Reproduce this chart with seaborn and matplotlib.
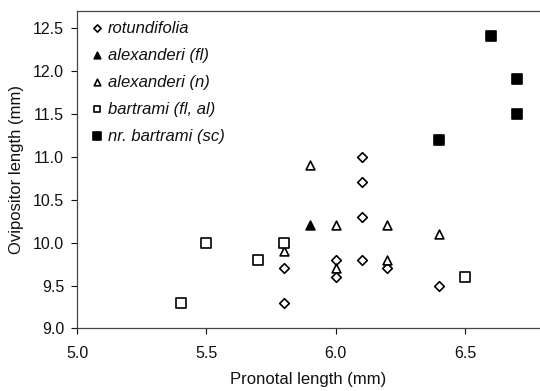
import numpy as np
import pandas as pd
import seaborn as sns
import matplotlib
matplotlib.use("Agg")
import matplotlib.pyplot as plt

# values
rot_x = [5.8, 5.8, 6.0, 6.0, 6.1, 6.1, 6.1, 6.1, 6.2, 6.4]
rot_y = [9.7, 9.3, 9.8, 9.6, 11.0, 10.7, 10.3, 9.8, 9.7, 9.5]
alfl_x = [5.9]
alfl_y = [10.2]
aln_x = [5.8, 5.9, 6.0, 6.0, 6.2, 6.2, 6.4]
aln_y = [9.9, 10.9, 10.2, 9.7, 10.2, 9.8, 10.1]
bart_x = [5.4, 5.5, 5.7, 5.8, 6.5]
bart_y = [9.3, 10.0, 9.8, 10.0, 9.6]
nrb_x = [6.4, 6.6, 6.7, 6.7]
nrb_y = [11.2, 12.4, 11.9, 11.5]

x_ticks = [5.0, 5.5, 6.0, 6.5]
y_ticks = [9.0, 9.5, 10.0, 10.5, 11.0, 11.5, 12.0, 12.5]

sns.set_style("ticks")
plt.rcParams["font.family"] = ["Liberation Sans", "DejaVu Sans"]

groups = [
    ("rotundifolia", rot_x, rot_y, "D", "white", 24),
    ("alexanderi (fl)", alfl_x, alfl_y, "^", "black", 40),
    ("alexanderi (n)", aln_x, aln_y, "^", "white", 40),
    ("bartrami (fl, al)", bart_x, bart_y, "s", "white", 42),
    ("nr. bartrami (sc)", nrb_x, nrb_y, "s", "black", 48),
]

fig = plt.figure(figsize=(5.4, 3.91), dpi=100)
ax = fig.add_axes([0.143, 0.16, 0.857, 0.8126])

for name, xs, ys, mk, fc, sz in groups:
    df = pd.DataFrame({"x": xs, "y": ys})
    sns.scatterplot(data=df, x="x", y="y", ax=ax, marker=mk, s=sz,
                    facecolor=fc, edgecolor="black", linewidth=1.2,
                    label=name, zorder=3)

ax.set_xlim(5.0, 6.79)
ax.set_ylim(9.0, 12.7)
ax.set_xticks(x_ticks)
ax.set_yticks(y_ticks)
ax.set_xticklabels([f"{v:.1f}" for v in x_ticks])
ax.set_yticklabels([f"{v:.1f}" for v in y_ticks])
ax.tick_params(direction="out", length=4, width=0.8, labelsize=11.5, colors="#111111")
ax.tick_params(axis="x", pad=8.5)
ax.tick_params(axis="y", pad=5.5)
for side in ["left", "bottom", "top"]:
    ax.spines[side].set_color("#444444")
    ax.spines[side].set_linewidth(0.9)
ax.spines["right"].set_visible(False)

ax.set_xlabel("Pronotal length (mm)", fontsize=12, color="#111111", labelpad=8)
ax.set_ylabel("Ovipositor length (mm)", fontsize=12, color="#111111")
ax.yaxis.set_label_coords(-0.115, 0.5)

leg = ax.legend(loc="upper left", bbox_to_anchor=(0.007, 1.0), frameon=False,
                prop={"style": "italic", "size": 12},
                handletextpad=0.25, labelspacing=0.72, borderaxespad=0.2,
                handlelength=0.8, markerscale=0.75)
for t in leg.get_texts():
    t.set_color("#111111")

fig.savefig("out.png", dpi=100, facecolor="white")
